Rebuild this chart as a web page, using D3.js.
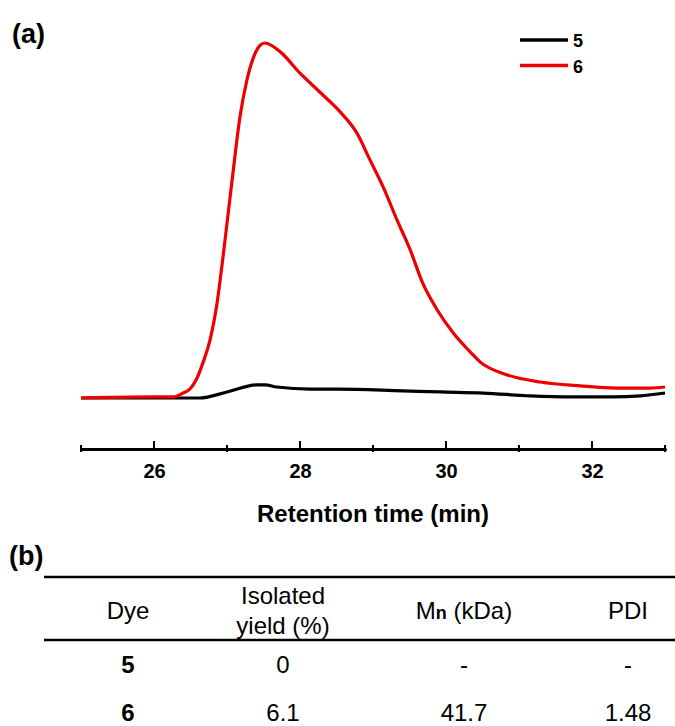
<!DOCTYPE html>
<html>
<head>
<meta charset="utf-8">
<script src="https://cdn.jsdelivr.net/npm/d3@7"></script>
<style>
  body { margin: 0; background: #fff; }
  svg { display: block; font-family: "Liberation Sans", Arial, sans-serif; }
</style>
</head>
<body>
<svg id="chart" width="675" height="726"></svg>
<script>
// GPC traces, retention time (min) vs normalised detector response
const time5 = [25.0, 26.26, 26.63, 27.0, 27.41, 27.52, 27.68, 28.14, 28.51, 29.41, 29.92, 30.51, 31.15, 31.74, 32.29, 32.66, 33.0];
const trace5 = [0, 0, 0, 0.017, 0.037, 0.037, 0.031, 0.025, 0.025, 0.020, 0.017, 0.014, 0.006, 0.003, 0.003, 0.006, 0.014];

const time6 = [25.0, 25.95, 26.26, 26.40, 26.49, 26.58, 26.67, 26.77, 26.86, 26.95, 27.07, 27.18, 27.27, 27.36, 27.45, 27.52, 27.73,
  28.0, 28.27, 28.55, 28.78, 28.96, 29.14, 29.33, 29.51, 29.68, 29.88, 30.10, 30.33, 30.47, 30.84, 31.29, 31.84, 32.34, 32.79, 33.0];
const trace6 = [0, 0.003, 0.003, 0.014, 0.025, 0.052, 0.099, 0.165, 0.262, 0.405, 0.614, 0.795, 0.893, 0.958, 0.993, 1.0, 0.975,
  0.915, 0.862, 0.806, 0.746, 0.670, 0.594, 0.501, 0.417, 0.324, 0.248, 0.183, 0.130, 0.101, 0.065, 0.045, 0.034, 0.028, 0.028, 0.031];

const majorTicks = [26, 28, 30, 32];
const minorTicks = [25, 27, 29, 31, 33];

const seriesNames = ["5", "6"];
const seriesColors = ["#000000", "#ee0000"];

// table (b)
const tableDye = ["5", "6"];
const tableYield = ["0", "6.1"];
const tableMn = ["-", "41.7"];
const tablePDI = ["-", "1.48"];

const svg = d3.select("#chart");

const x = d3.scaleLinear().domain([25, 33]).range([81, 665]);
const y = d3.scaleLinear().domain([0, 1]).range([398, 43]);

const line = d3.line()
  .x(d => x(d[0]))
  .y(d => y(d[1]))
  .curve(d3.curveMonotoneX);

// panel label
svg.append("text").attr("x", 12).attr("y", 43)
  .attr("font-size", 27).attr("font-weight", "bold").text("(a)");

// curves
const series = [d3.zip(time5, trace5), d3.zip(time6, trace6)];
svg.append("g").selectAll("path")
  .data(series)
  .join("path")
  .attr("fill", "none")
  .attr("stroke", (d, i) => seriesColors[i])
  .attr("stroke-width", 3.2)
  .attr("stroke-linejoin", "round")
  .attr("d", line);

// x axis
const axisY = 449;
const gx = svg.append("g").attr("transform", `translate(0,${axisY})`);
gx.call(d3.axisBottom(x).tickValues(majorTicks).tickSize(0).tickSizeOuter(0).tickFormat(d3.format("d")));
gx.select(".domain").attr("stroke-width", 3).attr("stroke-linecap", "round");
gx.selectAll(".tick text")
  .attr("y", 29).attr("dy", 0)
  .attr("font-size", 20).attr("font-weight", "bold")
  .attr("font-family", "Liberation Sans, Arial, sans-serif")
  .attr("fill", "#000");

gx.selectAll(".tick-major")
  .data(majorTicks)
  .join("line")
  .attr("x1", d => x(d)).attr("x2", d => x(d))
  .attr("y1", 2).attr("y2", -8)
  .attr("stroke", "#000").attr("stroke-width", 2);

gx.selectAll(".tick-minor")
  .data(minorTicks)
  .join("line")
  .attr("x1", d => x(d)).attr("x2", d => x(d))
  .attr("y1", 3).attr("y2", -4)
  .attr("stroke", "#000").attr("stroke-width", 2);

svg.append("text")
  .attr("x", (x(25) + x(33)) / 2).attr("y", 522)
  .attr("text-anchor", "middle")
  .attr("font-size", 24).attr("font-weight", "bold")
  .text("Retention time (min)");

// legend
const legend = svg.append("g").selectAll("g")
  .data(seriesNames)
  .join("g")
  .attr("transform", (d, i) => `translate(520,${40 + i * 25.5})`);
legend.append("line")
  .attr("x1", 0).attr("x2", 48)
  .attr("stroke", (d, i) => seriesColors[i])
  .attr("stroke-width", 3.5);
legend.append("text")
  .attr("x", 53).attr("y", 7)
  .attr("font-size", 18).attr("font-weight", "bold")
  .text(d => d);

// table (b)
svg.append("text").attr("x", 9).attr("y", 565)
  .attr("font-size", 27).attr("font-weight", "bold").text("(b)");

const colX = [128, 283, 464, 628];
const tbl = svg.append("g").attr("font-size", 24).attr("text-anchor", "middle").attr("fill", "#000");

tbl.append("line").attr("x1", 44).attr("x2", 675).attr("y1", 577).attr("y2", 577)
  .attr("stroke", "#000").attr("stroke-width", 2.5);
tbl.append("line").attr("x1", 44).attr("x2", 675).attr("y1", 640).attr("y2", 640)
  .attr("stroke", "#000").attr("stroke-width", 2.5);

tbl.append("text").attr("x", colX[0]).attr("y", 619).text("Dye");
tbl.append("text").attr("x", colX[1]).attr("y", 604).text("Isolated");
tbl.append("text").attr("x", colX[1]).attr("y", 634).text("yield (%)");
const mn = tbl.append("text").attr("x", colX[2]).attr("y", 619);
mn.append("tspan").text("M");
mn.append("tspan").attr("font-size", 18).attr("font-weight", "bold").text("n");
mn.append("tspan").text(" (kDa)");
tbl.append("text").attr("x", colX[3]).attr("y", 619).text("PDI");

const rowY = d3.scalePoint().domain(tableDye).range([673, 721]);
const rows = tbl.selectAll(".row")
  .data(tableDye)
  .join("g");
rows.append("text").attr("x", colX[0]).attr("y", d => rowY(d))
  .attr("font-weight", "bold").text(d => d);
rows.append("text").attr("x", colX[1]).attr("y", d => rowY(d)).text((d, i) => tableYield[i]);
rows.append("text").attr("x", colX[2]).attr("y", d => rowY(d)).text((d, i) => tableMn[i]);
rows.append("text").attr("x", colX[3]).attr("y", d => rowY(d)).text((d, i) => tablePDI[i]);
</script>
</body>
</html>
